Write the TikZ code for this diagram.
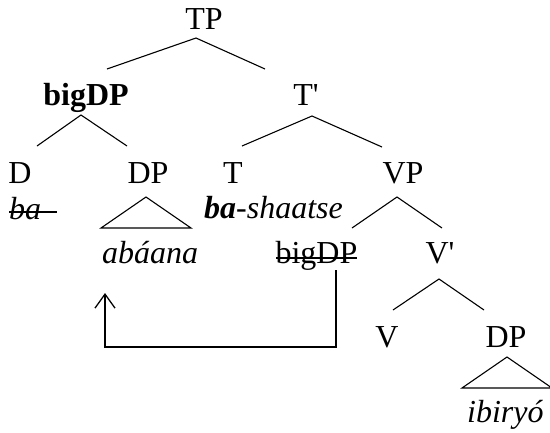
\documentclass[tikz,border=0pt]{standalone}
\usepackage{fontspec}
\setmainfont{Liberation Serif}[Ligatures=TeXOff]
\usetikzlibrary{arrows.meta}
\tikzset{
  lbl/.style={anchor=base, inner sep=0pt, font=\fontsize{32}{38}\selectfont},
  lblw/.style={lbl, anchor=base west},
  branch/.style={line width=1.1pt},
  move/.style={line width=1.3pt, -{Straight Barb[length=14pt,width=20pt,line width=1.3pt]}}
}
\begin{document}
\begin{tikzpicture}[x=1pt, y=-1pt]
            \useasboundingbox (0,0) rectangle (550,432);
            % labels
            \node[lbl] (tp) at (204,29) {TP};
            \node[lbl] (bigdp) at (86,105) {\textbf{bigDP}};
            \node[lbl] (tbar) at (306,105) {T'};
            \node[lbl] (d) at (20,183) {D};
            \node[lbl] (dp) at (148,183) {DP};
            \node[lbl] (t) at (233,183) {T};
            \node[lbl] (vp) at (403,183) {VP};
            \node[lblw] (ba) at (9,219) {\textit{ba}};
            \node[lblw] (bashaatse) at (204,218) {\textbf{\textit{ba}}\textit{-shaatse}};
            \node[lblw] (abaana) at (102,263) {\textit{abáana}};
            \node[lbl] (trace) at (316.5,263) {bigDP};
            \node[lbl] (vbar) at (440,263) {V'};
            \node[lbl] (v) at (387,347) {V};
            \node[lbl] (dpobj) at (506,347) {DP};
            \node[lblw] (ibiryo) at (467,422) {\textit{ibiryó}};
            % branches
            \draw[branch] ([shift={(21,-36)}]bigdp.base) -- ([shift={(-8,9)}]tp.base) -- ([shift={(-41,-36)}]tbar.base);
            \draw[branch] ([shift={(17,-37)}]d.base) -- ([shift={(-5,10)}]bigdp.base) -- ([shift={(-21,-37)}]dp.base);
            \draw[branch] ([shift={(9,-37)}]t.base) -- ([shift={(6,11)}]tbar.base) -- ([shift={(-21,-36)}]vp.base);
            \draw[branch] ([shift={(35.5,-35)}]trace.base) -- ([shift={(-6,14)}]vp.base) -- ([shift={(2,-35)}]vbar.base);
            \draw[branch] ([shift={(6,-37)}]v.base) -- ([shift={(-1,16)}]vbar.base) -- ([shift={(-22,-37)}]dpobj.base);
            % triangles
            \draw[branch] (dp.base) ++(-2,14) -- ++(-45,31) -- ++(90,0) -- cycle;
            \draw[branch] (dpobj.base) ++(1,10) -- ++(-45,31) -- ++(90,0) -- cycle;
            % strike-outs
            \draw[branch] ([yshift=7pt]ba.base west) -- ++(48,0);
            \draw[branch] ([shift={(-40.5,-5)}]trace.base) -- ++(81,0);
            % movement
            \draw[move] ([shift={(19.5,7)}]trace.base) -- ++(0,77) -| ([shift={(3,30)}]abaana.base west);
        \end{tikzpicture}
\end{document}
